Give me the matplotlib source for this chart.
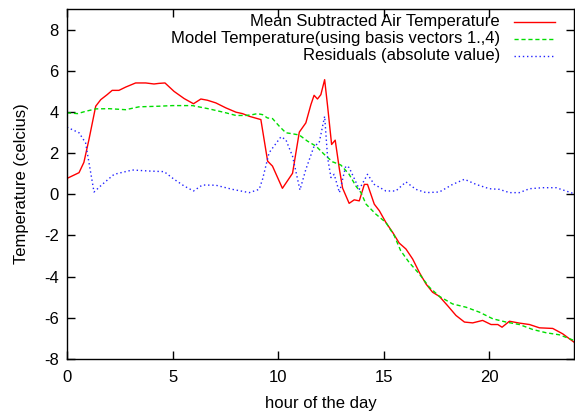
import matplotlib
matplotlib.use("Agg")
import matplotlib.pyplot as plt

# mean subtracted air temperature
air_hours = [0, 0.57, 0.8, 1.04, 1.36, 1.6, 1.9, 2.14, 2.46, 2.78, 3.25, 3.73, 4.12, 4.36,
             4.64, 5.07, 5.55, 5.99, 6.34, 6.65, 7.05, 7.52, 8.0, 8.31, 8.63, 9.18, 9.5,
             9.73, 10.2, 10.68, 11.0, 11.31, 11.55, 11.7, 11.86, 12.02, 12.2, 12.34, 12.53,
             12.7, 12.9, 13.05, 13.36, 13.6, 13.84, 14.08, 14.23, 14.55, 14.79, 15.1, 15.42,
             15.73, 16.05, 16.37, 16.68, 17.0, 17.31, 17.63, 18.02, 18.42, 18.82, 19.21,
             19.68, 20.08, 20.4, 20.6, 20.95, 21.42, 21.9, 22.37, 23.0, 23.47, 24.0]
air_temp = [0.77, 1.05, 1.55, 2.66, 4.28, 4.6, 4.84, 5.05, 5.05, 5.21, 5.41, 5.41, 5.36, 5.39,
            5.41, 5.0, 4.65, 4.4, 4.63, 4.57, 4.44, 4.2, 3.99, 3.92, 3.79, 3.63, 1.61,
            1.37, 0.29, 1.02, 3.02, 3.47, 4.36, 4.81, 4.63, 4.84, 5.57, 4.28, 2.42,
            2.63, 1.21, 0.3, -0.44, -0.27, -0.32, 0.48, 0.48, -0.48, -0.8, -1.37, -1.85,
            -2.37, -2.66, -3.15, -3.79, -4.36, -4.76, -4.96, -5.41, -5.89, -6.21, -6.25,
            -6.13, -6.33, -6.33, -6.46, -6.17, -6.26, -6.33, -6.49, -6.52, -6.78, -7.18]

# model temperature (basis vectors 1..4)
model_hours = [0, 0.5, 0.88, 1.36, 2.0, 2.78, 3.41, 4.36, 5.0, 5.94, 6.73, 7.52, 8.0, 8.47,
               8.78, 9.02, 9.26, 9.49, 9.73, 10.05, 10.36, 10.68, 11.0, 11.39, 11.79, 12.18,
               12.57, 12.97, 13.36, 13.68, 13.92, 14.16, 14.63, 15.1, 15.5, 15.8, 16.2,
               16.68, 17.16, 17.63, 18.26, 18.9, 19.53, 20.16, 20.79, 21.42, 22.05, 22.69,
               23.32, 24.0]
model_temp = [3.96, 3.92, 4.03, 4.15, 4.16, 4.11, 4.25, 4.28, 4.31, 4.31, 4.15, 3.96, 3.83, 3.83,
              3.87, 3.92, 3.87, 3.71, 3.68, 3.31, 2.99, 2.94, 2.88, 2.58, 2.34, 1.94,
              1.58, 1.42, 0.97, 0.4, 0.08, -0.48, -0.97, -1.37, -2.02, -2.74, -3.31,
              -3.87, -4.52, -4.96, -5.33, -5.49, -5.73, -6.05, -6.21, -6.33, -6.57, -6.73,
              -6.83, -7.1]

# residuals (absolute value)
res_hours = [0, 0.57, 0.88, 1.28, 1.67, 2.23, 3.1, 3.89, 4.6, 5.07, 5.55, 5.99, 6.41, 7.05,
             7.83, 8.63, 9.1, 9.26, 9.57, 10.13, 10.36, 10.68, 11.03, 11.31, 11.7, 11.94,
             12.2, 12.34, 12.5, 12.65, 12.9, 13.2, 13.36, 13.84, 14.23, 14.55, 15.1, 15.57,
             16.05, 16.52, 17.0, 17.63, 18.26, 18.82, 19.37, 20.0, 20.47, 20.95, 21.42,
             21.9, 22.53, 23.16, 23.63, 24.0]
res_val = [3.26, 2.99, 2.5, 0.11, 0.48, 0.97, 1.18, 1.13, 1.1, 0.73, 0.4, 0.16, 0.45, 0.44,
           0.24, 0.08, 0.24, 0.73, 2.02, 2.79, 2.66, 1.85, 0.21, 1.21, 2.34, 2.5,
           3.79, 1.78, 0.81, 0.97, 0.08, 1.37, 1.3, 0.24, 0.97, 0.48, 0.16, 0.16,
           0.6, 0.24, 0.08, 0.11, 0.48, 0.73, 0.48, 0.27, 0.24, 0.08, 0.08,
           0.27, 0.32, 0.32, 0.16, 0.03]

labels = ["Mean Subtracted Air Temperature",
          "Model Temperature(using basis vectors 1.,4)",
          "Residuals (absolute value)"]
x_ticks = [0, 5, 10, 15, 20]
y_ticks = [-8, -6, -4, -2, 0, 2, 4, 6, 8]

plt.rcParams['font.family'] = ['Liberation Sans', 'DejaVu Sans']
plt.rcParams['font.size'] = 12
plt.rcParams['axes.unicode_minus'] = False

fig = plt.figure(figsize=(5.75, 4.13), dpi=100)
ax = fig.add_axes([0.1165, 0.131, 0.8815, 0.847])

styles = [dict(color='#ff0000', linestyle='-'),
          dict(color='#00dd00', linestyle=(0, (3, 2))),
          dict(color='#2222ff', linestyle=(0, (1, 2)))]
series = [(air_hours, air_temp), (model_hours, model_temp), (res_hours, res_val)]
for (xs, ys), st in zip(series, styles):
    ax.plot(xs, ys, linewidth=1.0, **st)

# gnuplot style key: right aligned text, sample on the right
for i, (lab, st) in enumerate(zip(labels, styles)):
    yk = 0.9637 - i * 0.0486
    ax.text(0.854, yk, lab, transform=ax.transAxes, ha='right', va='center')
    ax.plot([0.881, 0.9625], [yk, yk], transform=ax.transAxes, linewidth=1.0, **st)

ax.set_xlim(0, 24)
ax.set_ylim(-8, 9)
ax.set_xticks(x_ticks)
ax.set_yticks(y_ticks)
ax.tick_params(direction='in', length=6, top=True, right=True, width=1)
ax.tick_params(axis='y', pad=6)
ax.tick_params(axis='x', pad=8)
for sp in ax.spines.values():
    sp.set_linewidth(1.0)
ax.set_xlabel("hour of the day", labelpad=8)
ax.set_ylabel("Temperature (celcius)", labelpad=11)

fig.savefig("out.png", dpi=100)
